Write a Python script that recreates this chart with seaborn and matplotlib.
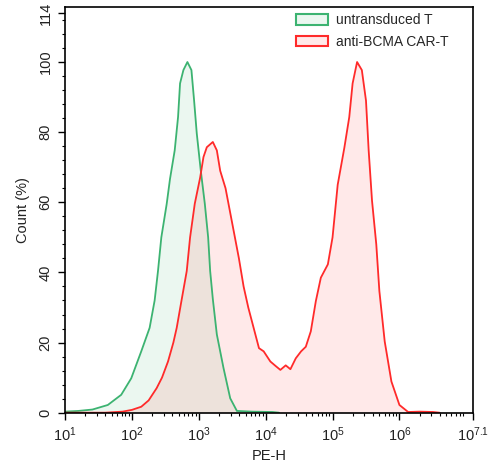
# Overlay histogram of PE-H for untransduced T vs anti-BCMA CAR-T
import numpy as np
import pandas as pd
import matplotlib
matplotlib.use('Agg')
import matplotlib.pyplot as plt
from matplotlib.patches import Patch
from matplotlib.ticker import FixedLocator, LogLocator, NullFormatter
import seaborn as sns

# %%
# values (x as log10 of PE-H, y as count %)
green_log = [1.0, 1.2, 1.41, 1.64, 1.84, 1.99, 2.14, 2.265, 2.34, 2.39,
             2.44, 2.52, 2.57, 2.64, 2.69, 2.72, 2.77, 2.83, 2.89, 2.93,
             2.97, 3.03, 3.09, 3.14, 3.17, 3.21, 3.27, 3.37, 3.47, 3.57,
             3.8, 4.1, 4.2]
green_cnt = [0.3, 0.5, 0.9, 2.2, 5.1, 9.8, 17.5, 24.2, 32, 40.4,
             50, 59.5, 66.7, 74.8, 84.3, 93.9, 97.7, 100, 97.7, 89,
             79.6, 69, 59.6, 50, 40.4, 32.4, 22.3, 12.7, 4.1, 0.5,
             0.3, 0.2, 0]

red_log = [1.0, 1.6, 1.86, 2.0, 2.14, 2.25, 2.37, 2.45, 2.54, 2.62,
           2.67, 2.74, 2.82, 2.87, 2.94, 3.02, 3.07, 3.12, 3.21, 3.27,
           3.32, 3.40, 3.53, 3.60, 3.67, 3.74, 3.82, 3.90, 3.97, 4.07,
           4.15, 4.22, 4.30, 4.37, 4.45, 4.53, 4.60, 4.675, 4.75, 4.825,
           4.93, 5.0, 5.077, 5.176, 5.25, 5.30, 5.367, 5.438, 5.50, 5.54,
           5.59, 5.654, 5.70, 5.78, 5.88, 6.0, 6.13, 6.3, 6.5, 6.6]
red_cnt = [0, 0, 0.3, 0.8, 1.7, 3.5, 7, 10, 14.6, 20,
           24.2, 31.8, 40.4, 50, 59.6, 67, 72.9, 75.7, 77.2, 74.8,
           69, 64, 51, 44, 36, 30, 24.2, 18.4, 17.5, 14.6,
           13.3, 12.2, 13.5, 12.4, 15.5, 17.5, 18.8, 23.2, 31.8, 38.5,
           42.3, 50, 65, 75.5, 84.3, 93.9, 100, 97.7, 89, 74.8,
           60.5, 48, 34.7, 20.3, 8.9, 2.2, 0.2, 0.3, 0.2, 0]

samples = ['untransduced T', 'anti-BCMA CAR-T']
line_cols = ['#3cb371', '#ff2a2a']
x_exps = [1, 2, 3, 4, 5, 6, 7.1]
x_labels = ['1', '2', '3', '4', '5', '6', '7.1']
y_ticks = [0, 20, 40, 60, 80, 100, 114]

# %%
data = pd.concat([
    pd.DataFrame({'PE-H': 10 ** np.array(green_log), 'count': green_cnt, 'sample': samples[0]}),
    pd.DataFrame({'PE-H': 10 ** np.array(red_log), 'count': red_cnt, 'sample': samples[1]}),
])

sns.set_style('ticks')
plt.rcParams['font.family'] = ['Liberation Sans', 'DejaVu Sans']
plt.rcParams['mathtext.default'] = 'regular'

fig = plt.figure(figsize=(4.9, 4.66), dpi=100)
ax = fig.add_axes([0.1327, 0.1144, 0.8326, 0.8699])

# filled areas first, then the outlines on top
for s, c in zip(samples, line_cols):
    d = data[data['sample'] == s]
    ax.fill_between(d['PE-H'], 0, d['count'], color=c, alpha=0.1, lw=0)

sns.lineplot(data=data, x='PE-H', y='count', hue='sample', palette=line_cols,
             sort=False, estimator=None, linewidth=1.3, legend=False, ax=ax)

ax.set_xscale('log')
ax.set(xlim=(10 ** 1, 10 ** 7.1), ylim=(0, 115.6))
ax.xaxis.set_major_locator(FixedLocator([10 ** e for e in x_exps]))
ax.set_xticklabels([r'$10^{%s}$' % l for l in x_labels])
ax.xaxis.set_minor_locator(LogLocator(base=10, subs=np.arange(2, 10), numticks=20))
ax.xaxis.set_minor_formatter(NullFormatter())

ax.set_yticks(y_ticks)
ax.set_yticks(np.arange(0, 116, 4), minor=True)
ax.tick_params(axis='y', labelrotation=90)
for t in ax.get_yticklabels():
    t.set_va('center')

ax.tick_params(which='major', direction='out', length=5, width=1, colors='black',
               labelsize=10.5, labelcolor='#222222', pad=4)
ax.tick_params(which='minor', direction='out', length=2.5, width=0.8, colors='black')
for sp in ax.spines.values():
    sp.set_linewidth(1.2)
    sp.set_color('black')

ax.set_xlabel('PE-H', fontsize=10.5, color='#222222', labelpad=4)
ax.set_ylabel('Count (%)', fontsize=10.5, color='#222222', labelpad=6)

# legend without a frame, top right inside the plot
handles = [Patch(facecolor=matplotlib.colors.to_rgba(c, 0.1), edgecolor=c, lw=1.5, label=s)
           for s, c in zip(samples, line_cols)]
ax.legend(handles=handles, loc='upper left', bbox_to_anchor=(0.566, 0.985),
          frameon=False, fontsize=10, handlelength=2.3, handleheight=0.75,
          handletextpad=0.6, labelspacing=0.55, borderpad=0, borderaxespad=0)

fig.savefig('out.png', dpi=100)
